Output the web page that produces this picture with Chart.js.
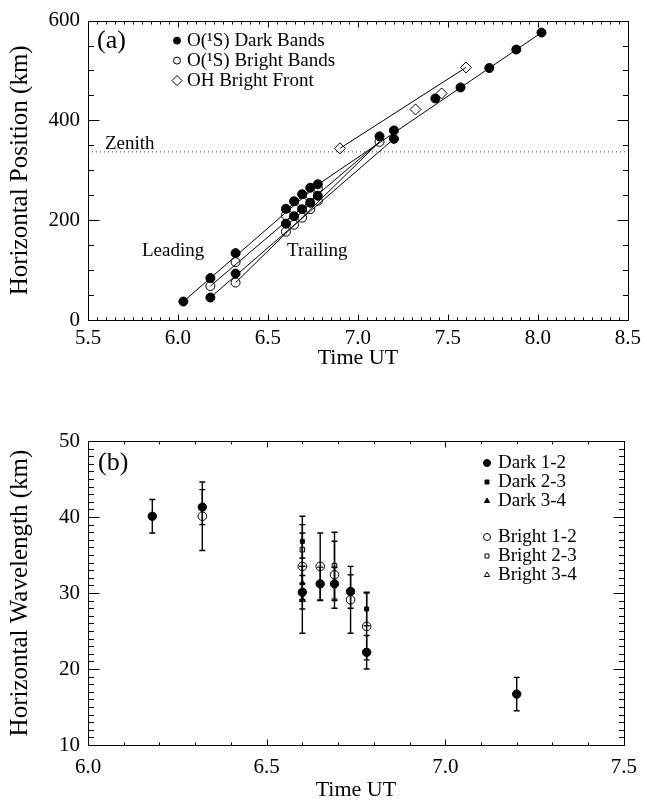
<!DOCTYPE html>
<html>
<head>
<meta charset="utf-8">
<script src="https://cdn.jsdelivr.net/npm/chart.js@4.4.0/dist/chart.umd.min.js"></script>
<style>
  body { margin: 0; background: #fff; }
  canvas { display: block; }
</style>
</head>
<body>
<canvas id="chartA" width="647" height="400"></canvas>
<canvas id="chartB" width="647" height="403"></canvas>
<script>
const FONT = "'Liberation Serif', 'Times New Roman', serif";

// ---------- panel (a): horizontal position vs time ----------
// O(1S) dark bands
const darkTime = [6.03, 6.18, 6.18, 6.32, 6.32, 6.60, 6.60, 6.645, 6.645, 6.69, 6.69, 6.735, 6.735, 6.777, 6.777,
                  7.12, 7.20, 7.20, 7.43, 7.57, 7.73, 7.88, 8.02];
const darkPos = [37, 84, 45, 134, 93, 223, 193, 238, 208, 252, 222, 265, 235, 272, 249,
                 368, 380, 363, 444, 466, 505, 542, 576];
// O(1S) bright bands
const brightTime = [6.18, 6.32, 6.32, 6.60, 6.60, 6.645, 6.645, 6.69, 6.69, 6.735, 6.735, 6.777, 6.777, 7.12];
const brightPos = [68, 116, 75, 210, 177, 223, 191, 237, 205, 250, 222, 264, 239, 357];
// OH bright front
const ohTime = [6.90, 7.32, 7.465, 7.60];
const ohPos = [344, 422, 454, 506];

// fitted lines, end points
const fitLeadTime = [6.03, 6.78, 8.02], fitLeadPos = [37, 272, 576];
const fitB1Time = [6.18, 7.12], fitB1Pos = [68, 357];
const fitD2Time = [6.18, 7.20], fitD2Pos = [45, 363];
const fitB2Time = [6.32, 7.12], fitB2Pos = [75, 357];
const fitOhTime = [6.90, 7.60], fitOhPos = [344, 506];
const zenithPos = 337;

// ---------- panel (b): horizontal wavelength vs time ----------
const dark12Time = [6.18, 6.32, 6.60, 6.65, 6.69, 6.735, 6.78, 7.20];
const dark12Wave = [40.1, 41.3, 30.1, 31.2, 31.2, 30.2, 22.2, 16.7];
const dark12Err  = [2.2, 2.3, 2.2, 2.2, 2.2, 2.2, 2.2, 2.2];
const dark23Time = [6.60, 6.78];
const dark23Wave = [36.8, 27.9];
const dark23Err  = [2.2, 2.2];
const dark34Time = [6.60];
const dark34Wave = [31.3];
const dark34Err  = [2.2];
const bright12Time = [6.32, 6.60, 6.65, 6.69, 6.735, 6.78];
const bright12Wave = [40.1, 33.5, 33.5, 32.4, 29.1, 25.6];
const bright12Err  = [4.5, 4.4, 4.4, 4.4, 4.4, 4.4];
const bright23Time = [6.60, 6.69];
const bright23Wave = [35.7, 33.6];
const bright23Err  = [4.4, 4.4];
const bright34Time = [6.60];
const bright34Wave = [29.1];
const bright34Err  = [4.4];

const pts = (xs, ys) => xs.map((x, i) => ({ x: x, y: ys[i] }));

// fitted / reference line dataset
function lineSet(xs, ys, extra) {
  return Object.assign({ data: pts(xs, ys), showLine: true, borderColor: '#000', borderWidth: 1,
    pointRadius: 0, order: 10 }, extra || {});
}
// marker dataset
function markSet(xs, ys, style, radius, filled, extra) {
  return Object.assign({ data: pts(xs, ys), pointStyle: style, pointRadius: radius,
    backgroundColor: filled ? '#000' : 'rgba(0,0,0,0)', borderColor: '#000', pointBorderWidth: 1,
    showLine: false, order: 1 }, extra || {});
}

// frame with inward ticks on all four sides
const frameTicks = {
  id: 'frameTicks',
  afterDatasetsDraw(chart, args, o) {
    const { ctx, chartArea: a, scales: { x, y } } = chart;
    ctx.save();
    ctx.strokeStyle = '#000';
    ctx.lineWidth = 1;
    const L = Math.round(a.left) + 0.5, R = Math.round(a.right) + 0.5;
    const T = Math.round(a.top) + 0.5, B = Math.round(a.bottom) + 0.5;
    ctx.strokeRect(L, T, R - L, B - T);
    ctx.beginPath();
    let n = Math.round((x.max - x.min) / o.xMinor);
    for (let i = 0; i <= n; i++) {
      const v = x.min + i * o.xMinor;
      const r = v / o.xMajor;
      const len = Math.abs(r - Math.round(r)) < 1e-6 ? o.xMajorLen : o.xMinorLen;
      const px = Math.round(x.getPixelForValue(v)) + 0.5;
      ctx.moveTo(px, B); ctx.lineTo(px, B - len);
      ctx.moveTo(px, T); ctx.lineTo(px, T + len);
    }
    n = Math.round((y.max - y.min) / o.yMinor);
    for (let i = 0; i <= n; i++) {
      const v = y.min + i * o.yMinor;
      const r = v / o.yMajor;
      const len = Math.abs(r - Math.round(r)) < 1e-6 ? o.yMajorLen : o.yMinorLen;
      const py = Math.round(y.getPixelForValue(v)) + 0.5;
      ctx.moveTo(L, py); ctx.lineTo(L + len, py);
      ctx.moveTo(R, py); ctx.lineTo(R - len, py);
    }
    ctx.stroke();
    ctx.restore();
  }
};

// vertical error bars for datasets that carry an "errors" array
const errorBars = {
  id: 'errorBars',
  beforeDatasetsDraw(chart) {
    const { ctx, scales: { x, y } } = chart;
    ctx.save();
    ctx.strokeStyle = '#000';
    ctx.lineWidth = 1.4;
    chart.data.datasets.forEach(ds => {
      if (!ds.errors) return;
      ds.data.forEach((p, i) => {
        const px = x.getPixelForValue(p.x);
        const top = y.getPixelForValue(p.y + ds.errors[i]);
        const bot = y.getPixelForValue(p.y - ds.errors[i]);
        ctx.beginPath();
        ctx.moveTo(px, top); ctx.lineTo(px, bot);
        ctx.moveTo(px - 3, top); ctx.lineTo(px + 3, top);
        ctx.moveTo(px - 3, bot); ctx.lineTo(px + 3, bot);
        ctx.stroke();
      });
    });
    ctx.restore();
  }
};

// panel label, in-plot legend and text annotations
const annotations = {
  id: 'annotations',
  afterDraw(chart, args, o) {
    const { ctx, chartArea: a, scales: { x, y } } = chart;
    ctx.save();
    ctx.fillStyle = '#000';
    ctx.textBaseline = 'middle';
    ctx.textAlign = 'left';
    ctx.font = '26px ' + FONT;
    ctx.fillText(o.panel, a.left + o.panelDx, a.top + o.panelDy);
    (o.texts || []).forEach(t => {
      ctx.font = t.size + 'px ' + FONT;
      ctx.textAlign = t.align || 'left';
      ctx.fillText(t.text, x.getPixelForValue(t.x), y.getPixelForValue(t.y));
    });
    ctx.textAlign = 'left';
    ctx.font = o.legendSize + 'px ' + FONT;
    o.legend.forEach(it => {
      const mx = a.left + o.legendDx, my = a.top + it.dy;
      ctx.fillStyle = it.filled ? '#000' : 'rgba(0,0,0,0)';
      ctx.strokeStyle = '#000';
      ctx.lineWidth = 1;
      Chart.helpers.drawPoint(ctx, { pointStyle: it.style, radius: it.r, rotation: 0, borderWidth: 1 }, mx, my);
      ctx.fillStyle = '#000';
      ctx.fillText(it.text, mx + o.legendGap, my);
    });
    ctx.restore();
  }
};

function axisOpts(min, max, step, digits, titleText, titleSize, titlePad, size, tickPad) {
  return {
    type: 'linear', min: min, max: max,
    afterFit: size,
    ticks: { stepSize: step, autoSkip: false, maxRotation: 0, padding: tickPad, color: '#000',
      font: { family: FONT, size: 21 }, callback: v => v.toFixed(digits) },
    grid: { display: false, drawTicks: false },
    border: { display: false },
    title: { display: true, text: titleText, color: '#000', font: { family: FONT, size: titleSize }, padding: titlePad }
  };
}

// ---------- chart (a) ----------
new Chart(document.getElementById('chartA'), {
  type: 'scatter',
  data: {
    datasets: [
      markSet(darkTime, darkPos, 'circle', 4.5, true, { order: 0 }),
      markSet(brightTime, brightPos, 'circle', 4.5, false, { order: 1 }),
      markSet(ohTime, ohPos, 'rectRot', 5.5, false, { order: 2 }),
      lineSet(fitLeadTime, fitLeadPos),
      lineSet(fitB1Time, fitB1Pos),
      lineSet(fitD2Time, fitD2Pos),
      lineSet(fitB2Time, fitB2Pos),
      lineSet(fitOhTime, fitOhPos),
      lineSet([5.5, 8.5], [zenithPos, zenithPos], { borderColor: '#444', borderDash: [1, 3] })
    ]
  },
  options: {
    responsive: false,
    animation: false,
    devicePixelRatio: 1,
    layout: { padding: { left: 0, right: 14, top: 15, bottom: 0 } },
    scales: {
      x: axisOpts(5.5, 8.5, 0.5, 1, 'Time UT', 22, { top: 0, bottom: 29 }, s => { s.height = 80; }, 6),
      y: axisOpts(0, 600, 200, 0, 'Horizontal Position (km)', 25, { top: 5, bottom: 0 }, s => { s.width = 88; }, 8)
    },
    plugins: {
      legend: { display: false },
      tooltip: { enabled: false },
      frameTicks: { xMinor: 0.05, xMajor: 0.5, xMajorLen: 6, xMinorLen: 3,
                    yMinor: 50, yMajor: 200, yMajorLen: 11, yMinorLen: 5.5 },
      annotations: {
        panel: '(a)', panelDx: 9, panelDy: 21,
        legendDx: 89, legendGap: 10, legendSize: 19,
        legend: [
          { text: 'O(¹S) Dark Bands', style: 'circle', r: 3.5, filled: true, dy: 20 },
          { text: 'O(¹S) Bright Bands', style: 'circle', r: 3.5, filled: false, dy: 40 },
          { text: 'OH Bright Front', style: 'rectRot', r: 5, filled: false, dy: 60 }
        ],
        texts: [
          { text: 'Zenith', x: 5.594, y: 352, size: 19 },
          { text: 'Leading', x: 5.973, y: 138, size: 19, align: 'center' },
          { text: 'Trailing', x: 6.774, y: 138, size: 19, align: 'center' }
        ]
      }
    }
  },
  plugins: [frameTicks, annotations]
});

// ---------- chart (b) ----------
new Chart(document.getElementById('chartB'), {
  type: 'scatter',
  data: {
    datasets: [
      markSet(dark12Time, dark12Wave, 'circle', 4.2, true, { errors: dark12Err, order: 0 }),
      markSet(dark23Time, dark23Wave, 'rect', 2.8, true, { errors: dark23Err, order: 0 }),
      markSet(dark34Time, dark34Wave, 'triangle', 3, true, { errors: dark34Err, order: 0 }),
      markSet(bright12Time, bright12Wave, 'circle', 4.3, false, { errors: bright12Err, order: 1 }),
      markSet(bright23Time, bright23Wave, 'rect', 3.2, false, { errors: bright23Err, order: 1 }),
      markSet(bright34Time, bright34Wave, 'triangle', 3.5, false, { errors: bright34Err, order: 1 })
    ]
  },
  options: {
    responsive: false,
    animation: false,
    devicePixelRatio: 1,
    layout: { padding: { left: 0, right: 14, top: 41, bottom: 0 } },
    scales: {
      x: axisOpts(6.0, 7.5, 0.5, 1, 'Time UT', 22, { top: 0, bottom: 0 }, s => { s.height = 58; }, 10),
      y: axisOpts(10, 50, 10, 0, 'Horizontal Wavelength (km)', 25, { top: 5, bottom: 0 }, s => { s.width = 88; }, 8)
    },
    plugins: {
      legend: { display: false },
      tooltip: { enabled: false },
      frameTicks: { xMinor: 0.1, xMajor: 0.5, xMajorLen: 6, xMinorLen: 3,
                    yMinor: 1, yMajor: 10, yMajorLen: 11, yMinorLen: 5.5 },
      annotations: {
        panel: '(b)', panelDx: 10, panelDy: 22,
        legendDx: 399, legendGap: 11, legendSize: 19,
        legend: [
          { text: 'Dark 1-2', style: 'circle', r: 3.5, filled: true, dy: 22 },
          { text: 'Dark 2-3', style: 'rect', r: 2.8, filled: true, dy: 41 },
          { text: 'Dark 3-4', style: 'triangle', r: 3, filled: true, dy: 60 },
          { text: 'Bright 1-2', style: 'circle', r: 3.5, filled: false, dy: 96 },
          { text: 'Bright 2-3', style: 'rect', r: 2.8, filled: false, dy: 115 },
          { text: 'Bright 3-4', style: 'triangle', r: 3, filled: false, dy: 134 }
        ],
        texts: []
      }
    }
  },
  plugins: [errorBars, frameTicks, annotations]
});
</script>
</body>
</html>
